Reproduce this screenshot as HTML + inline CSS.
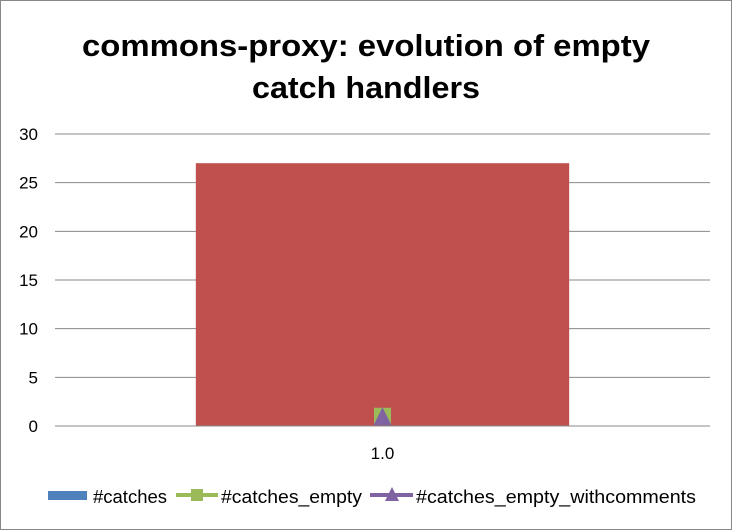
<!DOCTYPE html>
<html><head><meta charset="utf-8"><style>
body{margin:0;background:#fff}
svg{display:block;font-family:"Liberation Sans",Arial,sans-serif}
</style></head><body>
<svg id="c" width="732" height="530">
<rect x="0.5" y="0.5" width="731" height="529" fill="#fff" stroke="#888"/>
<text x="366" y="56" text-anchor="middle" font-size="31" font-weight="bold" textLength="568" lengthAdjust="spacingAndGlyphs">commons-proxy: evolution of empty</text>
<text x="366" y="98" text-anchor="middle" font-size="31" font-weight="bold" textLength="228" lengthAdjust="spacingAndGlyphs">catch handlers</text>
<g id="grid"></g><g id="marks"></g>
<g>
<rect x="48" y="491" width="39" height="9" fill="#4f81bd"/>
<text x="93" y="503" font-size="18" textLength="74" lengthAdjust="spacingAndGlyphs">#catches</text>
<line x1="176" y1="495" x2="218" y2="495" stroke="#9bbb59" stroke-width="4"/>
<rect x="191" y="489" width="12" height="12" fill="#9bbb59"/>
<text x="221" y="503" font-size="18" textLength="141" lengthAdjust="spacingAndGlyphs">#catches_empty</text>
<line x1="370" y1="495" x2="413" y2="495" stroke="#8064a2" stroke-width="4"/>
<polygon points="392,487 399,501 385,501" fill="#8064a2"/>
<text x="416" y="503" font-size="18" textLength="280" lengthAdjust="spacingAndGlyphs">#catches_empty_withcomments</text>
</g>
</svg>
<script>
const categories=["1.0"];
const barValues=[27];
const emptyValues=[1];
const commentValues=[1];
const yTicks=[0,5,10,15,20,25,30];
const NS="http://www.w3.org/2000/svg";
const L=55,R=710,T=134,B=426;
const y=v=>B-(v/30)*(B-T);
const bw=(R-L)/categories.length;
const xc=i=>L+bw*(i+0.5);
const g=document.getElementById('grid'),m=document.getElementById('marks');
function el(t,a,p){const e=document.createElementNS(NS,t);for(const k in a)e.setAttribute(k,a[k]);p.appendChild(e);return e;}
yTicks.forEach(v=>{
 const l=el('line',{x1:L,x2:R,y1:y(v),y2:y(v),stroke:'#888','stroke-width':1},g);
 
 
 const t=el('text',{x:38,y:y(v)+6,'text-anchor':'end','font-size':17},g);
 t.textContent=v;
 
 
});
categories.forEach((c,i)=>{
 const w=bw*0.57;
 const b=el('rect',{x:xc(i)-w/2,y:y(barValues[i]),width:w,height:B-y(barValues[i]),fill:'#c0504d'},m);
 
 
 const s=el('rect',{x:xc(i)-8.5,y:y(emptyValues[i])-8.5,width:17,height:17,fill:'#9bbb59'},m);
 
 
 const cy=y(commentValues[i]);
 const p=el('polygon',{points:`${xc(i)},${cy-9} ${xc(i)+9},${cy+9} ${xc(i)-9},${cy+9}`,fill:'#8064a2'},m);
 
 
 const t=el('text',{x:xc(i),y:459,'text-anchor':'middle','font-size':17},m);
 t.textContent=c;
 
 
});
el('line',{x1:L,x2:R,y1:B,y2:B,stroke:'#888'},m);
</script>
</body></html>
